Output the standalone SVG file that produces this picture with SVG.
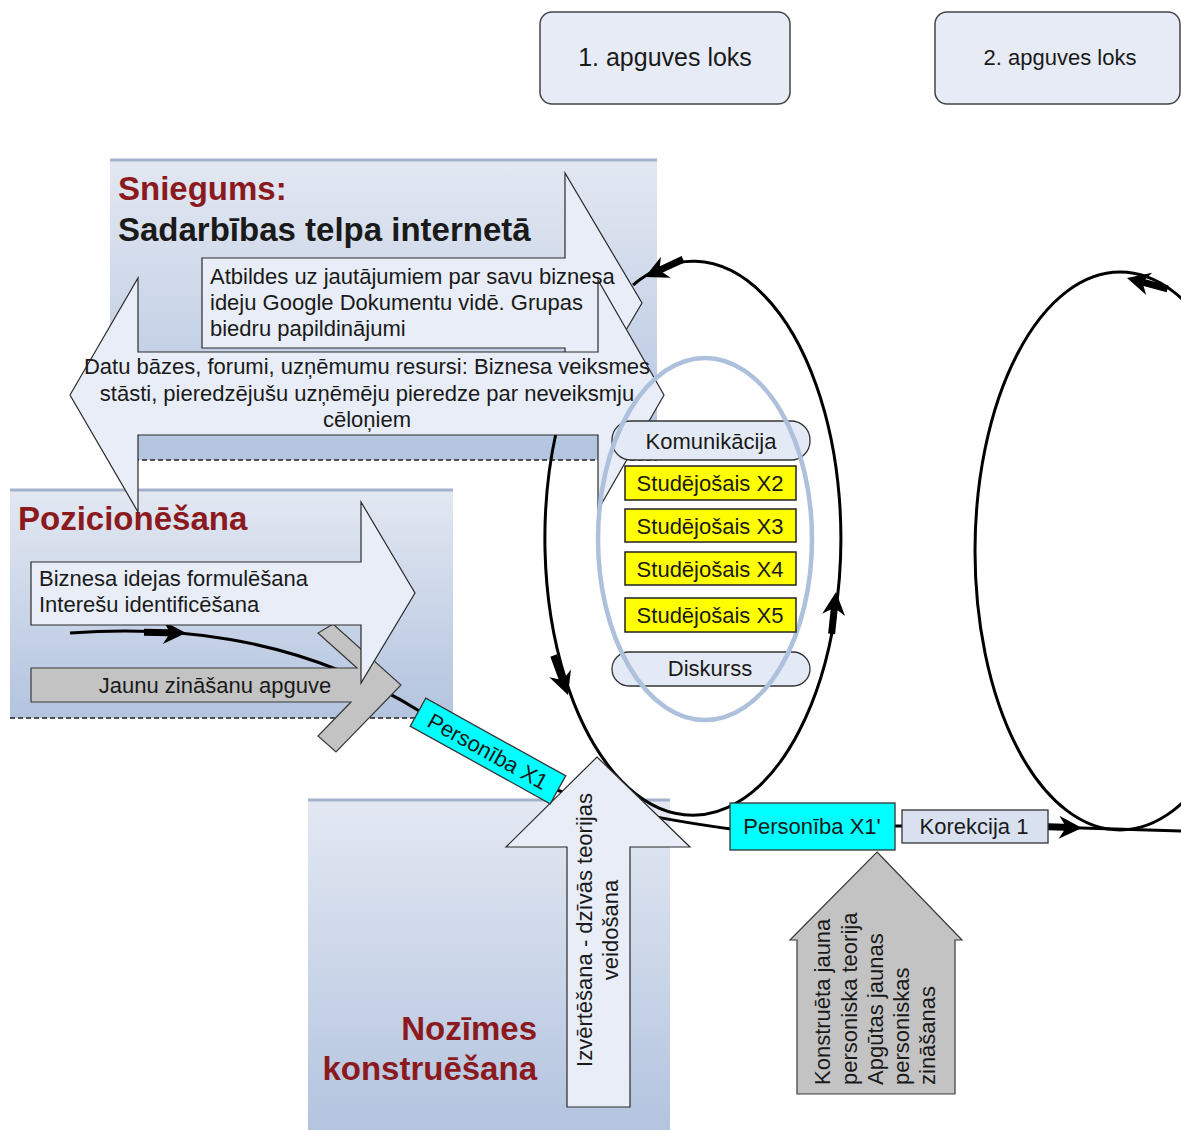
<svg xmlns="http://www.w3.org/2000/svg" width="1181" height="1130" viewBox="0 0 1181 1130">
<defs>
<linearGradient id="panelGrad" x1="0" y1="0" x2="0" y2="1">
<stop offset="0" stop-color="#e3e8f2"/>
<stop offset="1" stop-color="#b3c4df"/>
</linearGradient>
<path id="bigArrow" d="M0,0 L-23,-11.5 L-18,-3.5 L-42,-3.5 L-42,3.5 L-18,3.5 L-23,11.5 Z"/>
</defs>
<style>
text{font-family:"Liberation Sans",Arial,sans-serif;fill:#1a1a1a;font-size:22px}
.title{font-size:33px;font-weight:bold}
.red{fill:#8b1a1e}
.panel{fill:url(#panelGrad)}
.topline{stroke:#a3b3ce;stroke-width:3}
.light{fill:#e8edf7;stroke:#2a2a2a;stroke-width:1.2}
.gray{fill:#c3c3c3;stroke:#3a3a3a;stroke-width:1.2}
.dash{stroke:#222;stroke-width:1.3;stroke-dasharray:5 3;fill:none}
.conn{fill:none;stroke:#000;stroke-width:3}
.ah{fill:#000}
.box{stroke:#333;stroke-width:1.3}
.cyan{fill:#00ffff}
.yellow{fill:#ffff00;stroke:#222;stroke-width:1.5}
.pill{fill:#e4eaf5;stroke:#333;stroke-width:1.3}
.loop{fill:#e6ebf5;stroke:#444;stroke-width:1.5}
.mid{text-anchor:middle}
</style>
<rect width="1181" height="1130" fill="#ffffff"/>

<g id="panel-sniegums">
<rect x="110" y="160" width="547" height="300" class="panel"/>
<line x1="110" y1="160" x2="657" y2="160" class="topline"/>
<line x1="110" y1="460" x2="657" y2="460" class="dash"/>
<text x="118" y="200" class="title red">Sniegums:</text>
<text x="118" y="241" class="title">Sadarbības telpa internetā</text>
</g>

<g id="panel-pozicionesana">
<rect x="10" y="490" width="443" height="228" class="panel"/>
<line x1="10" y1="490" x2="453" y2="490" class="topline"/>
<line x1="10" y1="718" x2="453" y2="718" class="dash"/>
<text x="18" y="530" class="title red">Pozicionēšana</text>
</g>

<g id="panel-nozimes">
<rect x="308" y="800" width="362" height="330" class="panel"/>
<line x1="308" y1="800" x2="670" y2="800" class="topline"/>
<text x="537" y="1040" class="title red" text-anchor="end">Nozīmes</text>
<text x="537" y="1080" class="title red" text-anchor="end">konstruēšana</text>
</g>

<g id="connectors">
<path d="M556,433 A148,277 0 1 0 633,285" class="conn"/>
<ellipse cx="1120" cy="551" rx="145" ry="279" class="conn"/>
<path d="M70,633 C160,627 290,630 421,712" class="conn"/>
<path d="M557,790 C600,806 650,818 731,829" class="conn"/>
<path d="M895,826 L902,826" class="conn" stroke-width="2"/>
<path d="M1048,827 L1181,831" class="conn" stroke-width="2.5"/>
<use href="#bigArrow" class="ah" transform="translate(645,277) rotate(155)"/>
<use href="#bigArrow" class="ah" transform="translate(568,695) rotate(70)"/>
<use href="#bigArrow" class="ah" transform="translate(836,592) rotate(-84)"/>
<use href="#bigArrow" class="ah" transform="translate(186,633) rotate(1)"/>
<use href="#bigArrow" class="ah" transform="translate(1082,828) rotate(2)"/>
<use href="#bigArrow" class="ah" transform="translate(1127,278) rotate(195)"/>
</g>

<g id="arrow-atbildes">
<polygon points="202,258 565,258 565,173 642,303 565,433 565,348 202,348" class="light"/>
</g>

<g id="arrow-datu">
<polygon points="70,395 138,278 138,352 598,352 598,280 664,395 598,510 598,435 138,435 138,512" class="light"/>
<text x="367" y="374" class="mid">Datu bāzes, forumi, uzņēmumu resursi: Biznesa veiksmes</text>
<text x="367" y="401" class="mid">stāsti, pieredzējušu uzņēmēju pieredze par neveiksmju</text>
<text x="367" y="427" class="mid">cēloņiem</text>
</g>

<g id="arrow-atbildes-label">
<text x="210" y="284">Atbildes uz jautājumiem par savu biznesa</text>
<text x="210" y="310">ideju Google Dokumentu vidē. Grupas</text>
<text x="210" y="336">biedru papildinājumi</text>
</g>

<g id="jaunu-zinasanu-apguve">
<polygon points="31,668 357,668 318,633 333,624 401,685 336,752 318,736 351,702 31,702" class="gray"/>
<text x="215" y="693" class="mid">Jaunu zināšanu apguve</text>
</g>

<g id="arrow-biznesa-idejas">
<polygon points="31,562 361,562 361,502 415,593 361,683 361,625 31,625" class="light"/>
<text x="39" y="586">Biznesa idejas formulēšana</text>
<text x="39" y="612">Interešu identificēšana</text>
</g>

<g id="arrow-izvertesana">
<polygon points="597,757 690,847 630,847 630,1107 567,1107 567,847 506,847" class="light"/>
<text transform="translate(592,930) rotate(-90)" class="mid">Izvērtēšana - dzīvās teorijas</text>
<text transform="translate(618,930) rotate(-90)" class="mid">veidošana</text>
</g>

<g id="personiba-x1" transform="translate(488,751) rotate(29)">
<rect x="-80" y="-16" width="160" height="32" class="cyan box"/>
<text x="0" y="8" class="mid">Personība X1</text>
</g>

<g id="komunikacija">
<rect x="612" y="421" width="198" height="39" rx="19" class="pill"/>
<text x="711" y="449" class="mid">Komunikācija</text>
</g>
<g id="diskurss">
<rect x="612" y="652" width="198" height="34" rx="17" class="pill"/>
<text x="710" y="676" class="mid">Diskurss</text>
</g>
<g id="grupa">
<ellipse cx="705" cy="539" rx="107" ry="181" fill="none" stroke="#adc1dd" stroke-width="4.5"/>
</g>
<g id="studejosais-x2">
<rect x="625" y="466" width="171" height="34" class="yellow"/>
<text x="710" y="491" class="mid">Studējošais X2</text>
</g>
<g id="studejosais-x3">
<rect x="625" y="509" width="171" height="33" class="yellow"/>
<text x="710" y="534" class="mid">Studējošais X3</text>
</g>
<g id="studejosais-x4">
<rect x="625" y="552" width="171" height="33" class="yellow"/>
<text x="710" y="577" class="mid">Studējošais X4</text>
</g>
<g id="studejosais-x5">
<rect x="625" y="598" width="171" height="34" class="yellow"/>
<text x="710" y="623" class="mid">Studējošais X5</text>
</g>

<g id="personiba-x1-prime">
<rect x="730" y="803" width="165" height="47" class="cyan box"/>
<text x="812" y="834" class="mid">Personība X1'</text>
</g>
<g id="korekcija-1">
<rect x="902" y="810" width="146" height="33" fill="#d9e1f1" class="box"/>
<text x="974" y="834" class="mid">Korekcija 1</text>
</g>

<g id="arrow-konstrueta">
<polygon points="877,852 962,940 955,940 955,1094 797,1094 797,940 790,940" class="gray"/>
<text transform="translate(830,1085) rotate(-90)">Konstruēta jauna</text>
<text transform="translate(856.5,1085) rotate(-90)">personiska teorija</text>
<text transform="translate(883,1085) rotate(-90)">Apgūtas jaunas</text>
<text transform="translate(909,1085) rotate(-90)">personiskas</text>
<text transform="translate(935,1085) rotate(-90)">zināšanas</text>
</g>

<g id="apguves-loks-1">
<rect x="540" y="12" width="250" height="92" rx="12" class="loop"/>
<text x="665" y="66" class="mid" style="font-size:25px">1. apguves loks</text>
</g>
<g id="apguves-loks-2">
<rect x="935" y="12" width="245" height="92" rx="12" class="loop"/>
<text x="1060" y="65" class="mid">2. apguves loks</text>
</g>
</svg>
